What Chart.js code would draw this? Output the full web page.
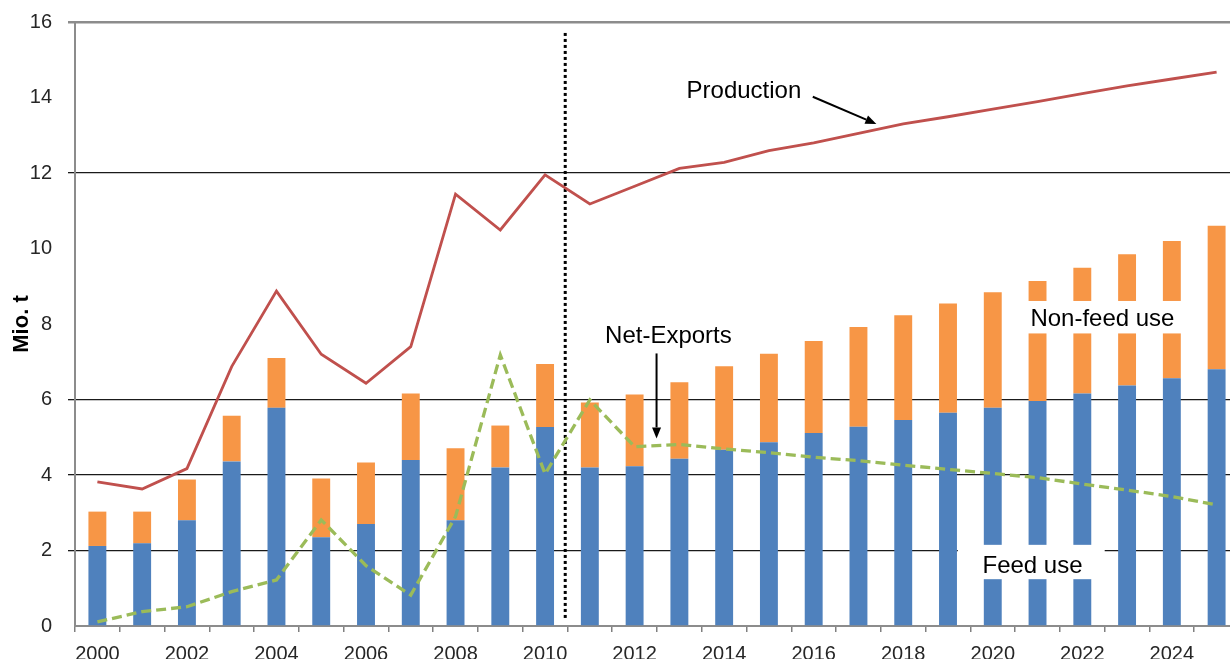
<!DOCTYPE html>
<html>
<head>
<meta charset="utf-8">
<script src="https://cdn.jsdelivr.net/npm/chart.js@4.4.1/dist/chart.umd.min.js"></script>
<style>
  html, body { margin: 0; padding: 0; background: #fff; overflow: hidden; }
  #wrap { position: absolute; left: 0; top: 0; width: 1240px; height: 665px; }
</style>
</head>
<body>
<div id="wrap"><canvas id="c"></canvas></div>
<script>
// ---- data (Mio. t) ----
const years = ['2000','2001','2002','2003','2004','2005','2006','2007','2008','2009','2010','2011','2012',
               '2013','2014','2015','2016','2017','2018','2019','2020','2021','2022','2023','2024','2025'];
const feedUse = [2.12, 2.19, 2.80, 4.36, 5.78, 2.35, 2.70, 4.40, 2.80, 4.20, 5.27, 4.20, 4.23,
                 4.43, 4.67, 4.87, 5.11, 5.28, 5.46, 5.65, 5.78, 5.96, 6.16, 6.37, 6.56, 6.80];
const nonFeedUse = [0.91, 0.84, 1.08, 1.21, 1.32, 1.56, 1.63, 1.76, 1.91, 1.11, 1.67, 1.72, 1.90,
                    2.03, 2.21, 2.34, 2.44, 2.64, 2.77, 2.89, 3.06, 3.18, 3.33, 3.48, 3.64, 3.80];
const production = [3.82, 3.63, 4.17, 6.87, 8.87, 7.20, 6.43, 7.40, 11.44, 10.49, 11.95, 11.18, 11.65,
                    12.12, 12.28, 12.59, 12.80, 13.05, 13.30, 13.49, 13.69, 13.89, 14.10, 14.31, 14.49, 14.67];
const netExports = [0.11, 0.38, 0.51, 0.91, 1.22, 2.81, 1.60, 0.82, 2.90, 7.18, 4.03, 5.99, 4.75,
                    4.81, 4.69, 4.59, 4.47, 4.38, 4.26, 4.15, 4.04, 3.93, 3.76, 3.60, 3.43, 3.21];
const yTicks = [0, 2, 4, 6, 8, 10, 12, 14, 16];
const gridValues = [2, 4, 6, 12];

// ---- annotations (in data units: x = category index, y = Mio. t) ----
const divider = { x: 10.45, y0: 0.16, y1: 15.71 };
const plainLabels = [
  { text: 'Production', x: 13.16, y: 13.99 },
  { text: 'Net-Exports', x: 11.34, y: 7.49 }
];
const boxedLabels = [
  { text: 'Non-feed use', x0: 20.3, x1: 24.6, y0: 7.75, y1: 8.61, tx: 20.84, ty: 7.95 },
  { text: 'Feed use', x0: 19.22, x1: 22.5, y0: 1.24, y1: 2.15, tx: 19.77, ty: 1.41 }
];
const arrows = [
  { x0: 15.98, y0: 14.02, x1: 17.40, y1: 13.30 },
  { x0: 12.49, y0: 7.22, x1: 12.49, y1: 4.97 }
];

const FONT = "'Liberation Sans', Arial, sans-serif";

const annot = {
  id: 'annot',
  beforeDatasetsDraw(chart) {
    const { ctx, scales: { x, y } } = chart;
    ctx.save();
    ctx.strokeStyle = '#000';
    ctx.lineWidth = 3;
    ctx.setLineDash([3, 3]);
    const px = x.getPixelForValue(divider.x);
    ctx.beginPath();
    ctx.moveTo(px, y.getPixelForValue(divider.y1));
    ctx.lineTo(px, y.getPixelForValue(divider.y0));
    ctx.stroke();
    ctx.restore();
  },
  afterDatasetsDraw(chart) {
    const { ctx, scales: { x, y } } = chart;
    ctx.save();
    ctx.font = '24px ' + FONT;
    ctx.textAlign = 'left';
    ctx.textBaseline = 'alphabetic';
    for (const b of boxedLabels) {
      const l = x.getPixelForValue(b.x0), r = x.getPixelForValue(b.x1);
      const t = y.getPixelForValue(b.y1), btm = y.getPixelForValue(b.y0);
      ctx.fillStyle = '#fff';
      ctx.fillRect(l, t, r - l, btm - t);
      ctx.fillStyle = '#000';
      ctx.fillText(b.text, x.getPixelForValue(b.tx), y.getPixelForValue(b.ty));
    }
    ctx.fillStyle = '#000';
    for (const p of plainLabels) {
      ctx.fillText(p.text, x.getPixelForValue(p.x), y.getPixelForValue(p.y));
    }
    for (const a of arrows) {
      const ax0 = x.getPixelForValue(a.x0), ay0 = y.getPixelForValue(a.y0);
      const ax1 = x.getPixelForValue(a.x1), ay1 = y.getPixelForValue(a.y1);
      const ang = Math.atan2(ay1 - ay0, ax1 - ax0);
      const len = 11, hw = 4.5;
      const bx = ax1 - len * Math.cos(ang), by = ay1 - len * Math.sin(ang);
      ctx.strokeStyle = '#000';
      ctx.lineWidth = 2;
      ctx.beginPath();
      ctx.moveTo(ax0, ay0);
      ctx.lineTo(bx, by);
      ctx.stroke();
      ctx.beginPath();
      ctx.moveTo(ax1, ay1);
      ctx.lineTo(bx + hw * Math.sin(ang), by - hw * Math.cos(ang));
      ctx.lineTo(bx - hw * Math.sin(ang), by + hw * Math.cos(ang));
      ctx.closePath();
      ctx.fill();
    }
    ctx.restore();
  }
};

new Chart(document.getElementById('c'), {
  type: 'bar',
  data: {
    labels: years,
    datasets: [
      { type: 'line', label: 'Production', data: production, borderColor: '#C0504D',
        borderWidth: 2.8, pointRadius: 0, tension: 0, fill: false, stack: 'prod', order: 0 },
      { type: 'line', label: 'Net-Exports', data: netExports, borderColor: '#9BBB59',
        borderWidth: 3.3, borderDash: [10, 5], pointRadius: 0, tension: 0, fill: false, stack: 'net', order: 0 },
      { label: 'Feed use', data: feedUse, backgroundColor: '#4F81BD', stack: 'use', order: 1,
        barPercentage: 0.4, categoryPercentage: 1 },
      { label: 'Non-feed use', data: nonFeedUse, backgroundColor: '#F79646', stack: 'use', order: 1,
        barPercentage: 0.4, categoryPercentage: 1 }
    ]
  },
  options: {
    responsive: true,
    maintainAspectRatio: false,
    animation: false,
    devicePixelRatio: 1,
    layout: { padding: { top: 22, right: 1, left: 0, bottom: 0 } },
    plugins: { legend: { display: false }, tooltip: { enabled: false } },
    scales: {
      x: {
        stacked: true,
        offset: true,
        grid: { offset: true, drawOnChartArea: false, drawTicks: true, tickLength: 6,
                color: '#808080', lineWidth: 1.5 },
        border: { color: '#8c8c8c', width: 2 },
        ticks: {
          autoSkip: false, maxRotation: 0, minRotation: 0, padding: 10,
          font: { family: FONT, size: 20 }, color: '#262626',
          callback: (v, i) => (i % 2 === 0 ? years[i] : '')
        },
        afterFit(s) { s.height = 39; s.paddingLeft = 0; s.paddingRight = 0; }
      },
      y: {
        stacked: true,
        min: 0, max: 16,
        afterBuildTicks(s) { s.ticks = yTicks.map(v => ({ value: v })); },
        ticks: { padding: 16, font: { family: FONT, size: 20 }, color: '#262626' },
        grid: {
          tickLength: 7,
          color: c => (c.tick && c.tick.value === 16) ? '#8c8c8c'
                    : (c.tick && gridValues.includes(c.tick.value)) ? '#1a1a1a' : 'rgba(0,0,0,0)',
          lineWidth: c => (c.tick && c.tick.value === 16) ? 2.5 : 1.3
        },
        border: { color: '#8c8c8c', width: 2 },
        title: { display: true, text: 'Mio. t', color: '#000',
                 font: { family: FONT, size: 22, weight: 'bold' }, padding: { top: 9, bottom: 0 } },
        afterFit(s) { s.width = 75; s.paddingTop = 0; s.paddingBottom = 0; }
      }
    }
  },
  plugins: [annot]
});
</script>
</body>
</html>
